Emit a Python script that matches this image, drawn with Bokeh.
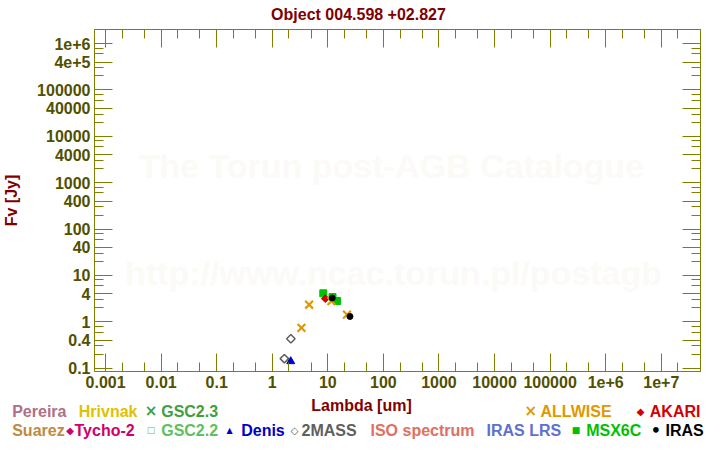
from bokeh.plotting import figure
from bokeh.layouts import column
from bokeh.models import Label, LogAxis, FixedTicker, CustomJSTickFormatter, Range1d
from bokeh.core.properties import value
from bokeh.embed import file_html
from bokeh.resources import INLINE

# ---------------- data ----------------
title_text = "Object 004.598 +02.827"
x_label = "Lambda [um]"
y_label = "Fv [Jy]"

x_tick_values = [1e-3, 1e-2, 1e-1, 1, 10, 100, 1e3, 1e4, 1e5, 1e6, 1e7]
x_tick_labels = ["0.001", "0.01", "0.1", "1", "10", "100", "1000", "10000",
                 "100000", "1e+6", "1e+7"]
x_minor_values = [m * 10.0 ** k for k in range(-4, 8) for m in (2, 5)]

y_tick_values = [0.1, 0.4, 1, 4, 10, 40, 100, 400, 1000, 4000, 1e4, 4e4, 1e5, 4e5, 1e6]
y_tick_labels = ["0.1", "0.4", "1", "4", "10", "40", "100", "400", "1000", "4000",
                 "10000", "40000", "100000", "4e+5", "1e+6"]
y_minor_values = [m * 10.0 ** k for k in range(-2, 7) for m in (2, 3, 6, 8)]

msx_lambda = [8.28, 12.13, 14.65]
msx_flux = [4.1, 3.4, 2.8]
akari_lambda = [9.0]
akari_flux = [3.15]
allwise_lambda = [3.35, 4.6, 11.6, 22.1]
allwise_flux = [0.74, 2.33, 2.8, 1.42]
twomass_lambda = [1.65, 2.16]
twomass_flux = [0.16, 0.43]
denis_lambda = [2.15]
denis_flux = [0.14]
iras_lambda = [12.0, 25.0]
iras_flux = [3.25, 1.3]

watermark_lines = ["The Torun post-AGB Catalogue", "http://www.ncac.torun.pl/postagb"]

# legend: (marker, text, colour)
legend_row1 = [("", "Pereira", "#b07088"), ("", "Hrivnak", "#e0c000"),
               ("\u00d7", "GSC2.3", "#40a040"), ("\u00d7", "ALLWISE", "#e09800"),
               ("\u25c6", "AKARI", "#d40000")]
legend_row2 = [("", "Suarez", "#c08a40"), ("\u25c6", "Tycho-2", "#d0006a"),
               ("\u25a1", "GSC2.2", "#60c060"), ("\u25b2", "Denis", "#0000c8"),
               ("\u25c7", "2MASS", "#606060"), ("", "ISO spectrum", "#e07060"),
               ("", "IRAS LRS", "#6070d0"), ("\u25a0", "MSX6C", "#00c000"),
               ("\u2022", "IRAS", "#000000")]

# ---------------- layout ----------------
W = 720
TOP_H = 23           # title strip height
MAIN_H = 372         # main plot height (page y 23..395)
BOT_H = 450 - TOP_H - MAIN_H
FL, FR = 92, 700
FT, FB = 29, 371     # frame edges in page pixels
FONT = "Liberation Sans"
AX = "#808000"
TICKTXT = "#505000"
DARKRED = "#800000"
BASE_SHIFT = 5       # svg alphabetic baseline correction for 16px text

strip_kw = dict(output_backend="svg", toolbar_location=None,
                x_axis_location=None, y_axis_location=None,
                min_border=0, outline_line_color=None, frame_align=False,
                background_fill_color="white", border_fill_color="white")

# ---- title strip ----
t = figure(width=W, height=TOP_H, x_range=Range1d(0, W), y_range=Range1d(TOP_H, 0), **strip_kw)
t.xgrid.visible = False
t.ygrid.visible = False
t.text(x=[358], y=[19 - BASE_SHIFT], text=[title_text], text_color=DARKRED,
       text_font=value(FONT), text_font_style="bold", text_font_size="16px",
       text_align="center", text_baseline="alphabetic")

# ---- main plot ----
p = figure(width=W, height=MAIN_H, x_axis_type="log", y_axis_type="log",
           x_range=Range1d(10 ** -3.199, 10 ** 7.706),
           y_range=Range1d(10 ** -1.073, 10 ** 6.303),
           output_backend="svg", toolbar_location=None, frame_align=False,
           min_border_left=FL, min_border_right=W - FR,
           min_border_top=FT - TOP_H, min_border_bottom=TOP_H + MAIN_H - FB,
           background_fill_color="white", border_fill_color="white",
           outline_line_color=AX)
p.xgrid.visible = False
p.ygrid.visible = False

fmt_code = """
const lt = Math.log10(tick);
for (let i = 0; i < vals.length; i++) {
  if (Math.abs(Math.log10(vals[i]) - lt) < 1e-6) return labs[i];
}
return "";
"""

def style_axis(ax, show_labels):
    ax.axis_line_color = AX
    ax.axis_line_width = 1
    ax.major_tick_line_color = AX
    ax.minor_tick_line_color = AX
    ax.major_tick_in = 18
    ax.major_tick_out = 0
    ax.minor_tick_in = 9
    ax.minor_tick_out = 0
    if show_labels:
        ax.major_label_text_font = FONT
        ax.major_label_text_font_style = "bold"
        ax.major_label_text_font_size = "16px"
        ax.major_label_text_color = TICKTXT
        ax.major_label_standoff = 4
    else:
        ax.major_label_text_font_size = "1px"
        ax.major_label_text_color = None
        ax.major_label_standoff = 0

xa = p.xaxis[0]
xa.ticker = FixedTicker(ticks=x_tick_values, minor_ticks=x_minor_values)
xa.formatter = CustomJSTickFormatter(args=dict(vals=x_tick_values, labs=x_tick_labels), code=fmt_code)
style_axis(xa, True)

ya = p.yaxis[0]
ya.ticker = FixedTicker(ticks=y_tick_values, minor_ticks=y_minor_values)
ya.formatter = CustomJSTickFormatter(args=dict(vals=y_tick_values, labs=y_tick_labels), code=fmt_code)
style_axis(ya, True)
ya.axis_label = y_label
ya.axis_label_text_font = FONT
ya.axis_label_text_font_style = "bold"
ya.axis_label_text_font_size = "16px"
ya.axis_label_text_color = DARKRED
ya.axis_label_standoff = 14

top = LogAxis(ticker=FixedTicker(ticks=x_tick_values, minor_ticks=x_minor_values),
              formatter=CustomJSTickFormatter(code="return '';"))
style_axis(top, False)
p.add_layout(top, "above")
right = LogAxis(ticker=FixedTicker(ticks=y_tick_values, minor_ticks=y_minor_values),
                formatter=CustomJSTickFormatter(code="return '';"))
style_axis(right, False)
p.add_layout(right, "right")

# watermark (inside the frame)
WM = "#fbfaf6"
for txt, cx, base in [(watermark_lines[0], 389, 165), (watermark_lines[1], 391, 272)]:
    p.add_layout(Label(x=cx - FL, y=FB - base, x_units="screen", y_units="screen",
                       text=txt, text_color=WM, text_font=FONT, text_font_size="34px",
                       text_font_style="bold", text_align="center",
                       text_baseline="alphabetic", level="underlay"))

# data
p.scatter(twomass_lambda, twomass_flux, marker="square", angle=0.785398, size=6,
          fill_color=None, line_color="#606060", line_width=1.5)
p.scatter(denis_lambda, denis_flux, marker="triangle", size=8,
          fill_color="#0000c8", line_color="#0000c8")
p.scatter(msx_lambda, msx_flux, marker="square", size=7,
          fill_color="#00c000", line_color="#00c000")
p.scatter(akari_lambda, akari_flux, marker="square", angle=0.785398, size=5.5,
          fill_color="#d40000", line_color="#d40000")
p.scatter(allwise_lambda, allwise_flux, marker="x", size=11,
          line_color="#e09800", line_width=2.2)
p.scatter(iras_lambda, iras_flux, marker="circle", size=6,
          fill_color="#000000", line_color="#000000")

# ---- bottom strip: x-axis title and legend ----
Y0 = TOP_H + MAIN_H
b = figure(width=W, height=BOT_H, x_range=Range1d(0, W), y_range=Range1d(450, Y0), **strip_kw)
b.xgrid.visible = False
b.ygrid.visible = False
b.text(x=[361], y=[410 - BASE_SHIFT], text=[x_label], text_color=DARKRED,
       text_font=value(FONT), text_font_style="bold", text_font_size="16px",
       text_align="center", text_baseline="alphabetic")

marker_size = {"\u00d7": "15px", "\u25c6": "10px", "\u25a1": "9px", "\u25b2": "8px",
               "\u25c7": "10px", "\u25a0": "9px", "\u2022": "16px"}
row1_x = [(None, 11.7), (None, 78.3), (150.5, 160.7), (530.3, 540), (640, 649.3)]
row2_x = [(None, 11.7), (69.7, 74), (150.5, 160.7), (229.2, 240.7), (294.2, 301),
          (None, 370), (None, 486), (575.5, 585.7), (655.3, 665)]
lx, ly, lt, lc = [], [], [], []
mx_, my_, mt, mc, ms = [], [], [], [], []
for (items, xs, base, mid) in [(legend_row1, row1_x, 416, 410.5),
                               (legend_row2, row2_x, 435.3, 429.5)]:
    for (mk, txt, col), (mx, tx) in zip(items, xs):
        if mk:
            mx_.append(mx); my_.append(mid); mt.append(mk); mc.append(col)
            ms.append(marker_size[mk])
        lx.append(tx); ly.append(base - BASE_SHIFT); lt.append(txt); lc.append(col)

b.text(x=lx, y=ly, text=lt, text_color=lc, text_font=value(FONT),
       text_font_style="bold", text_font_size="16px",
       text_align="left", text_baseline="alphabetic")
b.text(x=mx_, y=my_, text=mt, text_color=mc, text_font=value("DejaVu Sans"),
       text_font_style="bold", text_font_size=ms, text_align="center",
       text_baseline="middle")

layout = column(t, p, b, spacing=0)
open("out.html", "w").write(file_html(layout, INLINE))
